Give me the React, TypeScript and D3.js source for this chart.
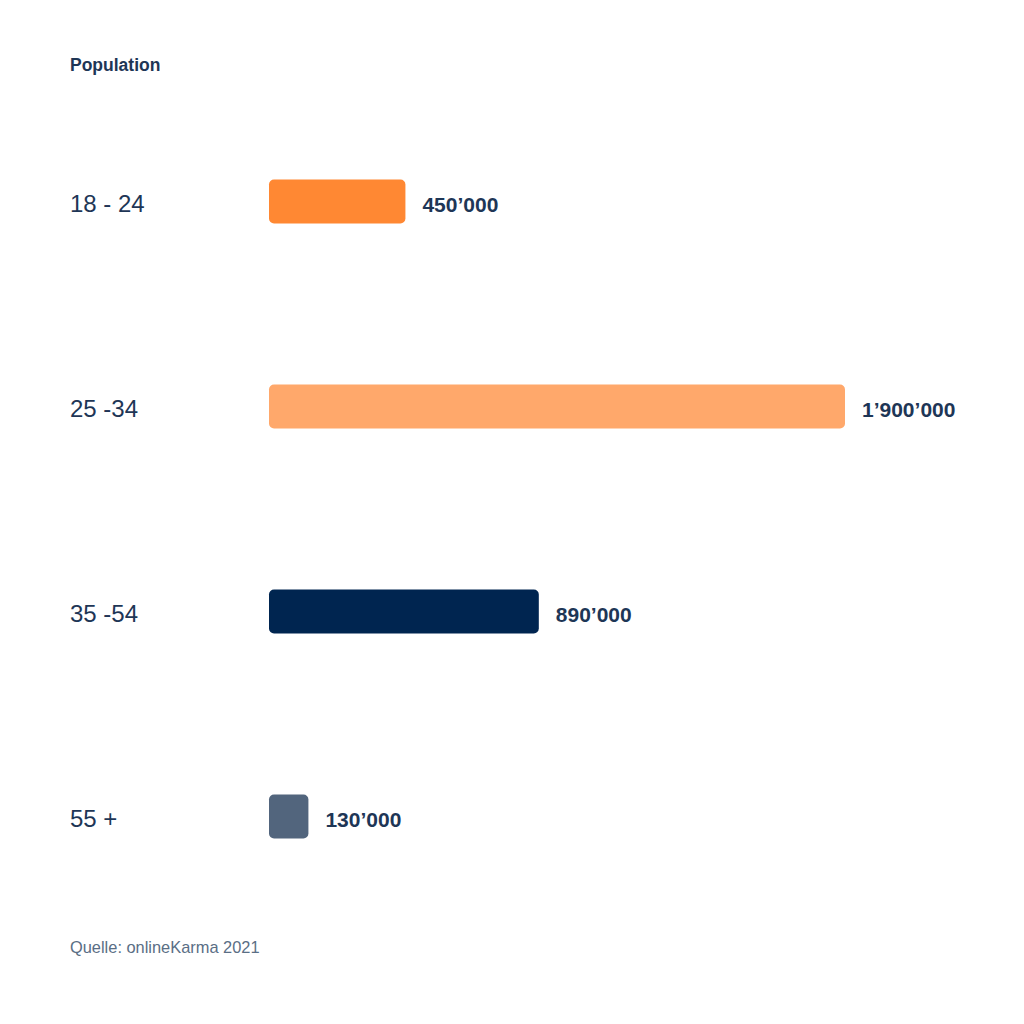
import React, { useEffect, useRef } from 'react';
import * as d3 from 'd3';

const categories = ['18 - 24', '25 -34', '35 -54', '55 +'];
const values = [450000, 1900000, 890000, 130000];
const valueLabels = ['450’000', '1’900’000', '890’000', '130’000'];
const barColors = ['#FF8833', '#FFA86B', '#002550', '#52657D'];

const WIDTH = 1024;
const HEIGHT = 1024;
const FONT = '"Liberation Sans", Arial, Helvetica, sans-serif';
const TEXT_COLOR = '#1E3656';

export default function App() {
  const svgRef = useRef<SVGSVGElement>(null);

  useEffect(() => {
    if (!svgRef.current) return;
    const svg = d3.select(svgRef.current);
    svg.selectAll('*').remove();

    const x = d3.scaleLinear().domain([0, 1900000]).range([269, 845]);
    const y = d3.scalePoint<string>().domain(categories).range([201.5, 816.5]);
    const barHeight = 44;

    svg.append('rect')
      .attr('width', WIDTH)
      .attr('height', HEIGHT)
      .attr('fill', '#ffffff');

    svg.append('text')
      .attr('x', 70)
      .attr('y', 71)
      .attr('fill', TEXT_COLOR)
      .style('font-family', FONT)
      .style('font-size', '17.5px')
      .style('font-weight', 'bold')
      .text('Population');

    const rows = svg.selectAll('g.row')
      .data(categories)
      .join('g')
      .attr('class', 'row');

    rows.append('text')
      .attr('x', 70)
      .attr('y', d => (y(d) ?? 0) + 10)
      .attr('fill', TEXT_COLOR)
      .style('font-family', FONT)
      .style('font-size', '24px')
      .text(d => d);

    rows.append('rect')
      .attr('x', x(0))
      .attr('y', d => (y(d) ?? 0) - barHeight / 2)
      .attr('width', (_, i) => x(values[i]) - x(0))
      .attr('height', barHeight)
      .attr('rx', 5)
      .attr('ry', 5)
      .attr('fill', (_, i) => barColors[i]);

    rows.append('text')
      .attr('x', (_, i) => x(values[i]) + 17)
      .attr('y', d => (y(d) ?? 0) + 10)
      .attr('fill', TEXT_COLOR)
      .style('font-family', FONT)
      .style('font-size', '21px')
      .style('font-weight', 'bold')
      .text((_, i) => valueLabels[i]);

    svg.append('text')
      .attr('x', 70)
      .attr('y', 953)
      .attr('fill', '#5A6E85')
      .style('font-family', FONT)
      .style('font-size', '16.4px')
      .text('Quelle: onlineKarma 2021');
  }, []);

  return (
    <svg
      ref={svgRef}
      width={WIDTH}
      height={HEIGHT}
      style={{ position: 'absolute', left: 0, top: 0 }}
    />
  );
}
